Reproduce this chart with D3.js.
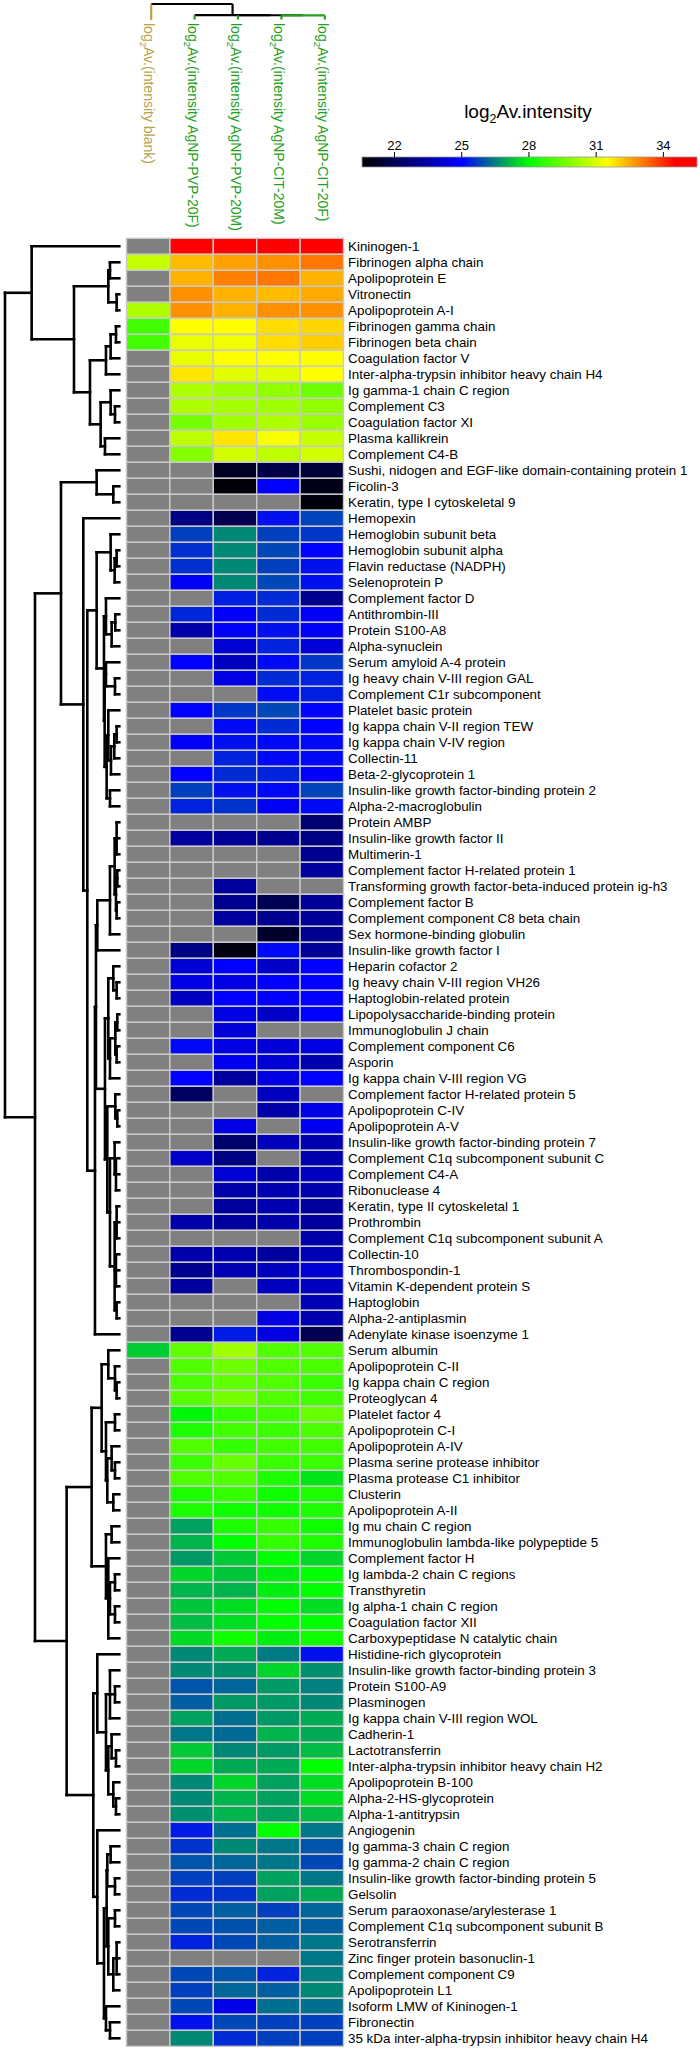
<!DOCTYPE html>
<html><head><meta charset="utf-8">
<script src="https://cdn.jsdelivr.net/npm/d3@7"></script>
<style>html,body{margin:0;padding:0;background:#fff;} svg{display:block;font-family:"Liberation Sans",Arial,sans-serif;}</style>
</head><body><svg id="chart" width="700" height="2052"></svg>
<script>
// ---------------- DATA ----------------
const proteins = [
"Kininogen-1","Fibrinogen alpha chain","Apolipoprotein E","Vitronectin","Apolipoprotein A-I",
"Fibrinogen gamma chain","Fibrinogen beta chain","Coagulation factor V","Inter-alpha-trypsin inhibitor heavy chain H4","Ig gamma-1 chain C region",
"Complement C3","Coagulation factor XI","Plasma kallikrein","Complement C4-B","Sushi, nidogen and EGF-like domain-containing protein 1",
"Ficolin-3","Keratin, type I cytoskeletal 9","Hemopexin","Hemoglobin subunit beta","Hemoglobin subunit alpha",
"Flavin reductase (NADPH)","Selenoprotein P","Complement factor D","Antithrombin-III","Protein S100-A8",
"Alpha-synuclein","Serum amyloid A-4 protein","Ig heavy chain V-III region GAL","Complement C1r subcomponent","Platelet basic protein",
"Ig kappa chain V-II region TEW","Ig kappa chain V-IV region","Collectin-11","Beta-2-glycoprotein 1","Insulin-like growth factor-binding protein 2",
"Alpha-2-macroglobulin","Protein AMBP","Insulin-like growth factor II","Multimerin-1","Complement factor H-related protein 1",
"Transforming growth factor-beta-induced protein ig-h3","Complement factor B","Complement component C8 beta chain","Sex hormone-binding globulin","Insulin-like growth factor I",
"Heparin cofactor 2","Ig heavy chain V-III region VH26","Haptoglobin-related protein","Lipopolysaccharide-binding protein","Immunoglobulin J chain",
"Complement component C6","Asporin","Ig kappa chain V-III region VG","Complement factor H-related protein 5","Apolipoprotein C-IV",
"Apolipoprotein A-V","Insulin-like growth factor-binding protein 7","Complement C1q subcomponent subunit C","Complement C4-A","Ribonuclease 4",
"Keratin, type II cytoskeletal 1","Prothrombin","Complement C1q subcomponent subunit A","Collectin-10","Thrombospondin-1",
"Vitamin K-dependent protein S","Haptoglobin","Alpha-2-antiplasmin","Adenylate kinase isoenzyme 1","Serum albumin",
"Apolipoprotein C-II","Ig kappa chain C region","Proteoglycan 4","Platelet factor 4","Apolipoprotein C-I",
"Apolipoprotein A-IV","Plasma serine protease inhibitor","Plasma protease C1 inhibitor","Clusterin","Apolipoprotein A-II",
"Ig mu chain C region","Immunoglobulin lambda-like polypeptide 5","Complement factor H","Ig lambda-2 chain C regions","Transthyretin",
"Ig alpha-1 chain C region","Coagulation factor XII","Carboxypeptidase N catalytic chain","Histidine-rich glycoprotein","Insulin-like growth factor-binding protein 3",
"Protein S100-A9","Plasminogen","Ig kappa chain V-III region WOL","Cadherin-1","Lactotransferrin",
"Inter-alpha-trypsin inhibitor heavy chain H2","Apolipoprotein B-100","Alpha-2-HS-glycoprotein","Alpha-1-antitrypsin","Angiogenin",
"Ig gamma-3 chain C region","Ig gamma-2 chain C region","Insulin-like growth factor-binding protein 5","Gelsolin","Serum paraoxonase/arylesterase 1",
"Complement C1q subcomponent subunit B","Serotransferrin","Zinc finger protein basonuclin-1","Complement component C9","Apolipoprotein L1",
"Isoform LMW of Kininogen-1","Fibronectin","35 kDa inter-alpha-trypsin inhibitor heavy chain H4"
];

const columns = ["blank","PVP-20F","PVP-20M","CIT-20M","CIT-20F"];
const columnLabels = ["Av.(intensity blank)","Av.(intensity AgNP-PVP-20F)","Av.(intensity AgNP-PVP-20M)","Av.(intensity AgNP-CIT-20M)","Av.(intensity AgNP-CIT-20F)"];

const _ = null;
const valBlank = [
_,30.7,_,_,30.4,28.9,28.9,_,_,_, _,_,_,_,_,_,_,_,_,_,
_,_,_,_,_,_,_,_,_,_, _,_,_,_,_,_,_,_,_,_,
_,_,_,_,_,_,_,_,_,_, _,_,_,_,_,_,_,_,_,_,
_,_,_,_,_,_,_,_,_,27.4, _,_,_,_,_,_,_,_,_,_,
_,_,_,_,_,_,_,_,_,_, _,_,_,_,_,_,_,_,_,_,
_,_,_,_,_,_,_,_,_,_, _,_,_];
const valPVP20F = [
34.8,32.3,32.4,32.8,32.8,31.5,31.2,31.2,31.8,30.4,
30.4,29.6,30.6,29.8,_,_,_,22.8,25.75,25.55,
25.55,24.8,_,25.45,23.5,_,25.0,_,_,25.0,
_,24.9,_,25.0,25.75,25.4,_,23.3,_,_,
_,_,_,_,22.8,24.2,24.5,23.9,_,_,
25.1,_,25.0,22.2,_,_,_,24.0,_,_,
_,23.5,_,23.5,23.0,23.3,_,_,23.0,29.3,
29.1,29.0,29.2,27.9,28.4,29.1,28.8,29.1,28.4,28.4,
26.9,27.1,26.8,27.5,27.1,27.3,27.2,27.55,26.6,26.6,
26.0,26.1,26.9,26.4,27.35,27.5,26.6,26.6,26.7,25.3,
25.6,26.0,25.75,25.5,25.85,25.85,25.4,_,25.85,25.75,
25.85,25.2,26.6];
const valPVP20M = [
35.0,32.6,33.0,32.4,32.4,31.5,31.3,31.5,31.1,30.2,
30.3,30.2,31.8,30.9,21.1,20.6,_,21.9,26.6,26.6,
26.6,26.6,25.35,24.9,24.9,24.2,23.9,24.5,_,25.65,
25.1,25.2,25.4,25.5,25.2,25.6,_,23.2,_,_,
23.3,23.0,23.3,_,20.8,25.0,24.5,25.0,24.5,24.3,
24.5,24.7,23.3,_,_,24.5,22.4,22.8,24.2,23.5,
23.3,23.3,_,23.6,23.7,_,_,_,25.3,30.2,
29.5,29.3,29.6,28.7,28.9,28.7,29.4,29.1,28.7,28.2,
28.4,28.0,27.35,27.3,27.1,27.6,27.6,28.2,27.0,26.7,
26.2,26.8,26.3,26.25,26.6,27.0,27.5,27.1,27.1,26.3,
26.6,26.2,25.75,25.6,26.1,25.95,25.85,_,26.0,26.2,
24.6,25.85,25.5];
const valCIT20M = [
34.9,32.8,33.1,32.3,32.8,31.9,31.9,31.5,31.1,30.0,
30.2,30.4,31.4,30.6,21.8,25.0,_,25.2,25.75,25.85,
25.75,25.85,25.5,25.5,25.2,25.4,25.1,25.5,25.15,25.85,
25.5,25.1,25.1,25.4,25.1,24.8,_,23.0,_,_,
_,22.0,23.0,21.3,25.1,24.0,25.0,25.0,24.0,_,
24.3,24.2,24.5,23.9,23.5,_,23.8,_,23.5,23.6,
23.6,23.5,_,23.3,23.9,23.9,_,24.5,24.5,29.1,
29.1,29.1,29.1,28.9,28.8,28.9,28.8,28.4,28.2,28.2,
28.7,28.7,28.0,27.8,27.8,28.0,28.0,27.8,26.45,27.5,
26.8,26.8,26.8,27.1,26.8,27.0,26.9,26.9,26.9,28.0,
26.4,26.4,26.9,26.9,25.75,26.1,26.1,_,25.4,26.1,
26.3,25.75,25.75];
const valCIT20F = [
34.8,33.1,32.4,32.5,32.8,32.0,32.1,31.5,31.5,29.5,
30.0,30.1,30.7,30.9,21.5,20.9,20.7,25.8,25.65,25.0,
25.2,25.2,23.0,24.8,24.8,24.3,25.65,25.4,25.35,25.05,
25.0,25.1,25.1,24.9,25.8,25.1,22.5,22.8,23.0,23.3,
_,23.2,23.2,23.0,23.2,25.0,25.0,25.0,25.0,_,
24.5,23.6,25.0,_,24.6,24.7,23.6,23.6,23.9,23.6,
23.3,23.3,23.5,23.7,24.2,23.9,23.7,23.6,21.9,29.1,
29.0,28.8,28.9,29.4,29.0,28.9,28.8,27.7,28.4,28.4,
28.2,28.4,27.5,28.0,28.0,27.6,28.0,28.2,25.2,26.7,
26.5,26.6,27.0,27.0,27.2,28.0,27.6,27.6,27.2,26.4,
26.0,25.85,26.4,27.0,26.2,26.1,26.4,26.4,26.5,26.6,
26.3,25.75,25.75];
const series = [valBlank, valPVP20F, valPVP20M, valCIT20M, valCIT20F];

// row dendrogram: [mergeHeight, child, child, ...]; leaves are 1-based row numbers
const rowTree =
[343,
  [263, 1,
    [136,
      [33, [28, 2, 3], [8, 4, 5]],
      [88,
        [40, [26, [10, 6, 7], 8], 9],
        [56, [26, 10, [13, 11, 12]], [43, 13, 14]]]]],
  [253,
    [175,
      [68, 15, [18, 16, 17]],
      [108, 18,
        [96,
          [68,
            [26, 19, [14, [8, 20, 21], 22]],
            [46,
              [40, 23, [23, [12, 24, 25], 26]],
              [44,
                [40, 27, [13, 28, 29]],
                [38,
                  [33, 30, [25, [15, [8, 31, 32], 33], 34]],
                  [28, 35, 36]]]]],
          [73,
            [70,
              [66, [28, [14, [8, 37, 38, 39], [10, [6, 40, 41], [8, 42, 43]]], 44], 45],
              [43,
                [33, [18, 46, [8, 47, 48]], [28, [12, [6, 49, 50], [8, 51, 52]], 53]],
                [36, [12, 54, [6, 55, 56]],
                  [28, [14, 57, [10, 58, 59, 60]], [14, [8, 61, 62, 63], [10, 64, 65, 66], [8, 67, 68]]]]]],
            69]]]],
    [158,
      [83,
        [53,
          [33, 70, [13, 71, [8, 72, 73]]],
          [40, [13, 74, 75], [36, [23, 76, [13, 77, 78]], [18, 79, 80]]]],
        [40, [23, 81, 82], [33, 83, [28, [13, 84, 85], [13, 86, 87]], 88]]],
      [78,
        [66, 89,
          [40, [28, 90, [13, 91, 92], 93], [33, [23, 94, [10, 95, 96]], [18, 97, [10, 98, 99]]]]],
        [66, 100,
          [46,
            [38, [36, [26, 101, 102], [13, 103, 104]], [33, [13, 105, 106], [18, [8, 107, 108, 109], 110]]],
            [40, 111, [28, 112, 113]]]]]]]];

// column dendrogram (leaves are 0-based column indices)
const colTree = [15, 0, [4.2, 1, [4.1, 2, [4.0, 3, 4]]]];

const legendTicks = [22, 25, 28, 31, 34];
const colorStops = [20.5, 25, 28, 31.5, 34.5, 35.5];
const colorRange = ["#000000", "#0000ff", "#00ff00", "#ffff00", "#ff0000", "#ff0000"];

// ---------------- DRAW ----------------
const svg = d3.select("#chart");
svg.append("rect").attr("width", 700).attr("height", 2052).attr("fill", "#fff");

const color = d3.scaleLinear().domain(colorStops).range(colorRange).clamp(true);
const xCol = d3.scaleBand().domain(d3.range(columns.length)).range([126.5, 343.5]);
const yRow = d3.scaleBand().domain(d3.range(proteins.length)).range([238.3, 238.3 + 16 * proteins.length]);

// heatmap cells
const cells = [];
series.forEach((s, c) => s.forEach((v, r) => cells.push({r, c, v})));
svg.append("g").selectAll("rect").data(cells).join("rect")
  .attr("x", d => xCol(d.c)).attr("y", d => yRow(d.r))
  .attr("width", xCol.bandwidth()).attr("height", yRow.bandwidth())
  .attr("fill", d => d.v == null ? "#808080" : color(d.v))
  .attr("stroke", "#c9c9c9").attr("stroke-width", 1.4);

// row labels
svg.append("g").selectAll("text").data(proteins).join("text")
  .attr("x", 348).attr("y", (d, i) => yRow(i) + yRow.bandwidth() / 2)
  .attr("dy", "0.35em").attr("font-size", 13.4).attr("fill", "#000").text(d => d);

// row dendrogram
const dx = d3.scaleLinear().domain([0, 343]).range([119.3, 5]);
const rowLines = [];
function walkRow(node) {
  if (typeof node === "number") return {pos: yRow(node - 1) + yRow.bandwidth() / 2, h: 0};
  const [h, ...kids] = node;
  const res = kids.map(walkRow);
  const x = dx(h);
  res.forEach(r => rowLines.push([dx(r.h), r.pos, x, r.pos]));
  rowLines.push([x, d3.min(res, r => r.pos), x, d3.max(res, r => r.pos)]);
  return {pos: (res[0].pos + res[res.length - 1].pos) / 2, h};
}
walkRow(rowTree);
svg.append("g").selectAll("line").data(rowLines).join("line")
  .attr("x1", d => d[0]).attr("y1", d => d[1]).attr("x2", d => d[2]).attr("y2", d => d[3])
  .attr("stroke", "#000").attr("stroke-width", 2.6).attr("stroke-linecap", "square");

// column dendrogram
const gold = "#b9a24a", green = "#22a022";
const dy = d3.scaleLinear().domain([0, 15]).range([19.5, 4]);
const colCx = c => xCol(c) + xCol.bandwidth() / 2 + 3;
const colLines = [];
function walkCol(node) {
  if (typeof node === "number") return {pos: colCx(node), h: 0, leaf: node};
  const [h, ...kids] = node;
  const res = kids.map(walkCol);
  const y = dy(h);
  const allLeavesGreen = JSON.stringify(node.slice(1)) === "[3,4]";
  res.forEach(r => colLines.push({x1: r.pos, y1: r.h === 0 && r.leaf === 0 ? 20 : dy(r.h), x2: r.pos, y2: y,
    col: r.h === 0 ? (r.leaf === 0 ? gold : green) : "#000"}));
  colLines.push({x1: d3.min(res, r => r.pos), y1: y, x2: d3.max(res, r => r.pos), y2: y, col: allLeavesGreen ? green : "#000"});
  return {pos: (res[0].pos + res[res.length - 1].pos) / 2, h};
}
walkCol(colTree);
colLines.sort((a, b) => (a.col === "#000" ? 0 : 1) - (b.col === "#000" ? 0 : 1));
svg.append("g").selectAll("line").data(colLines).join("line")
  .attr("x1", d => d.x1).attr("y1", d => d.y1).attr("x2", d => d.x2).attr("y2", d => d.y2)
  .attr("stroke", d => d.col).attr("stroke-width", 2.2);

// column labels (rotated)
const colText = svg.append("g").selectAll("text").data(columnLabels).join("text")
  .attr("transform", (d, i) => `translate(${xCol(i) + xCol.bandwidth() / 2 + 1},23) rotate(90)`)
  .attr("dy", "0.35em").attr("font-size", 14)
  .attr("fill", (d, i) => i === 0 ? gold : green);
colText.append("tspan").text("log");
colText.append("tspan").attr("font-size", 9.5).attr("dy", 4).text("2");
colText.append("tspan").attr("dy", -4).text(d => d);

// legend
const lx = d3.scaleLinear().domain([20.55, 35.5]).range([362, 697]);
const defs = svg.append("defs");
const grad = defs.append("linearGradient").attr("id", "lg").attr("x1", "0%").attr("x2", "100%");
const gvals = d3.range(0, 31).map(i => 20.55 + i * (35.5 - 20.55) / 30);
grad.selectAll("stop").data(gvals).join("stop")
  .attr("offset", v => ((lx(v) - 362) / (697 - 362) * 100) + "%")
  .attr("stop-color", v => color(v));
svg.append("rect").attr("x", lx(20.55)).attr("y", 157).attr("width", lx(35.5) - lx(20.55)).attr("height", 10)
  .attr("fill", "url(#lg)").attr("stroke", "#999").attr("stroke-width", 0.8);
const lg = svg.append("g");
lg.selectAll("line").data(legendTicks).join("line")
  .attr("x1", d => lx(d)).attr("x2", d => lx(d)).attr("y1", 152).attr("y2", 157)
  .attr("stroke", "#000").attr("stroke-width", 1);
lg.selectAll("text").data(legendTicks).join("text")
  .attr("x", d => lx(d)).attr("y", 150).attr("text-anchor", "middle")
  .attr("font-size", 13).attr("fill", "#000").text(d => d);
const title = svg.append("text").attr("x", 528).attr("y", 118).attr("text-anchor", "middle")
  .attr("font-size", 19).attr("fill", "#000");
title.append("tspan").text("log");
title.append("tspan").attr("font-size", 12.5).attr("dy", 5).text("2");
title.append("tspan").attr("dy", -5).text("Av.intensity");
</script></body></html>
